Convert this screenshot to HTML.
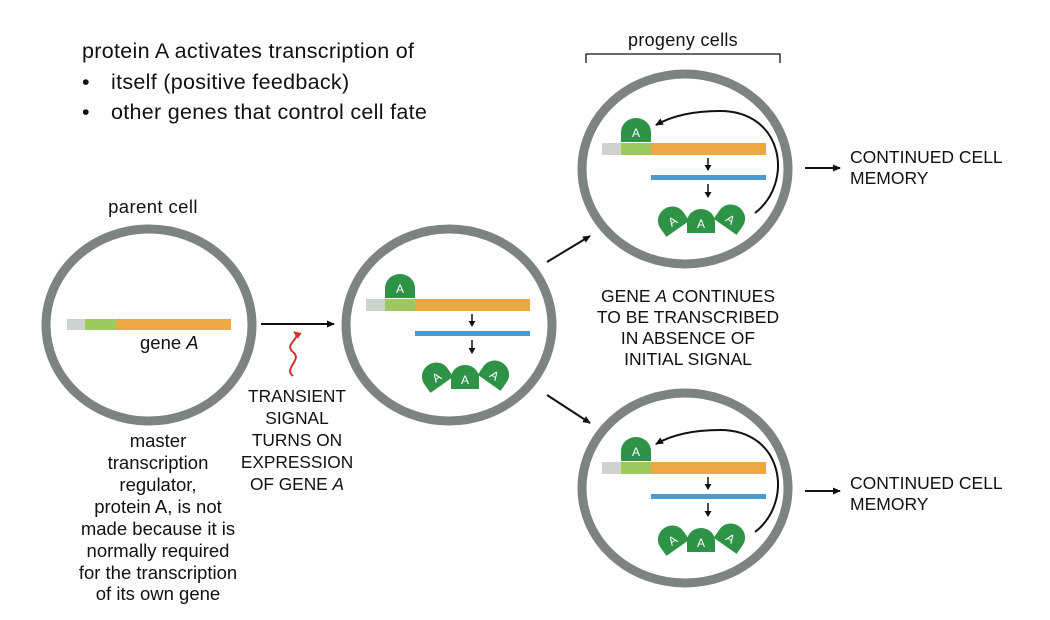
<!DOCTYPE html>
<html><head><meta charset="utf-8"><style>
html,body{margin:0;padding:0;background:#fff;}
svg{display:block;font-family:"Liberation Sans",sans-serif;}
</style></head><body>
<svg width="1050" height="620" viewBox="0 0 1050 620" xmlns="http://www.w3.org/2000/svg">
<defs>
<marker id="ah" markerWidth="8" markerHeight="8" refX="7" refY="4" orient="auto" markerUnits="userSpaceOnUse">
<path d="M0,0.5 L8,4 L0,7.5 Z" fill="#111"/></marker>
<marker id="ahs" markerWidth="6" markerHeight="7" refX="5" refY="3.5" orient="auto" markerUnits="userSpaceOnUse">
<path d="M0,0 L6,3.5 L0,7 Z" fill="#111"/></marker>
<marker id="ahr" markerWidth="8" markerHeight="8" refX="7" refY="4" orient="auto" markerUnits="userSpaceOnUse">
<path d="M0,0.5 L8,4 L0,7.5 Z" fill="#d2312b"/></marker>
<g id="prot">
<path d="M-15,12 V2 A15,14 0 0 1 15,2 V12 Z" fill="#2e9247"/>
<text x="0" y="7" font-size="12" fill="#fff" text-anchor="middle">A</text>
</g>
<g id="protS">
<path d="M-14,12 V1 A14,13 0 0 1 14,1 V12 Z" fill="#2e9247"/>
<text x="0" y="7" font-size="12" fill="#fff" text-anchor="middle">A</text>
</g>
<g id="content">
<rect x="0" y="0" width="19" height="12" fill="#cfd3d0"/>
<rect x="19" y="0" width="30" height="12" fill="#9dc75f"/>
<rect x="49" y="0" width="115" height="12" fill="#eea843"/>
<use href="#prot" x="34" y="-13"/>
<line x1="106" y1="15" x2="106" y2="27" stroke="#111" stroke-width="1.5" marker-end="url(#ahs)"/>
<rect x="49" y="32" width="115" height="5" fill="#4a9bd3"/>
<line x1="106" y1="41" x2="106" y2="54" stroke="#111" stroke-width="1.5" marker-end="url(#ahs)"/>
<use href="#protS" transform="translate(69,76) rotate(-35)"/>
<use href="#protS" transform="translate(99,78)"/>
<use href="#protS" transform="translate(130,74) rotate(35)"/>
</g>
<g id="loop">
<path d="M153,70 C192,40 182,-32 118,-32 C88,-32 68,-26 54,-18" fill="none" stroke="#111" stroke-width="2" marker-end="url(#ah)"/>
</g>
</defs>

<g font-size="21.5" fill="#111" letter-spacing="0.3">
<text x="82" y="58">protein A activates transcription of</text>
<text x="82" y="89">•</text>
<text x="111" y="89">itself (positive feedback)</text>
<text x="82" y="119">•</text>
<text x="111" y="119">other genes that control cell fate</text>
</g>

<text x="153" y="213" font-size="18.5" text-anchor="middle" fill="#111" letter-spacing="0.4">parent cell</text>
<ellipse cx="149" cy="325" rx="103" ry="96" fill="none" stroke="#7d8381" stroke-width="9"/>
<rect x="67" y="319" width="18" height="11" fill="#cfd3d0"/>
<rect x="85" y="319" width="31" height="11" fill="#9dc75f"/>
<rect x="116" y="319" width="115" height="11" fill="#eea843"/>
<text x="140" y="349" font-size="18.5" fill="#111">gene <tspan font-style="italic">A</tspan></text>
<g font-size="18.5" text-anchor="middle" fill="#111">
<text x="158" y="447">master</text>
<text x="158" y="469">transcription</text>
<text x="158" y="491">regulator,</text>
<text x="158" y="513">protein A, is not</text>
<text x="158" y="535">made because it is</text>
<text x="158" y="557">normally required</text>
<text x="158" y="579">for the transcription</text>
<text x="158" y="600">of its own gene</text>
</g>

<line x1="261" y1="324" x2="334" y2="324" stroke="#111" stroke-width="2" marker-end="url(#ah)"/>
<path d="M293,376 C283,368 303,360 293,352 C283,344 303,338 294,332" fill="none" stroke="#d2312b" stroke-width="2" marker-end="url(#ahr)"/>
<g font-size="17.3" text-anchor="middle" fill="#111">
<text x="297" y="402">TRANSIENT</text>
<text x="297" y="424">SIGNAL</text>
<text x="297" y="446">TURNS ON</text>
<text x="297" y="468">EXPRESSION</text>
<text x="297" y="490">OF GENE <tspan font-style="italic">A</tspan></text>
</g>

<ellipse cx="449" cy="325" rx="103" ry="96" fill="none" stroke="#7d8381" stroke-width="9"/>
<use href="#content" x="366" y="299"/>

<line x1="547" y1="262" x2="590" y2="236" stroke="#111" stroke-width="2" marker-end="url(#ah)"/>
<line x1="547" y1="395" x2="590" y2="423" stroke="#111" stroke-width="2" marker-end="url(#ah)"/>

<text x="683" y="46" font-size="18" text-anchor="middle" fill="#111" letter-spacing="0.3">progeny cells</text>
<path d="M586,63 V54 H780 V63" fill="none" stroke="#111" stroke-width="1.3"/>

<ellipse cx="685" cy="169" rx="103" ry="95" fill="none" stroke="#7d8381" stroke-width="9"/>
<use href="#content" x="602" y="143"/>
<use href="#loop" x="602" y="143"/>

<ellipse cx="685" cy="488" rx="103" ry="95" fill="none" stroke="#7d8381" stroke-width="9"/>
<use href="#content" x="602" y="462"/>
<use href="#loop" x="602" y="462"/>

<g font-size="17.5" text-anchor="middle" fill="#111">
<text x="688" y="302">GENE <tspan font-style="italic">A</tspan> CONTINUES</text>
<text x="688" y="323">TO BE TRANSCRIBED</text>
<text x="688" y="344">IN ABSENCE OF</text>
<text x="688" y="365">INITIAL SIGNAL</text>
</g>

<line x1="805" y1="168" x2="840" y2="168" stroke="#111" stroke-width="2" marker-end="url(#ah)"/>
<line x1="805" y1="491" x2="840" y2="491" stroke="#111" stroke-width="2" marker-end="url(#ah)"/>
<g font-size="17.5" fill="#111">
<text x="850" y="163">CONTINUED CELL</text>
<text x="850" y="184">MEMORY</text>
<text x="850" y="489">CONTINUED CELL</text>
<text x="850" y="510">MEMORY</text>
</g>
</svg>
</body></html>
